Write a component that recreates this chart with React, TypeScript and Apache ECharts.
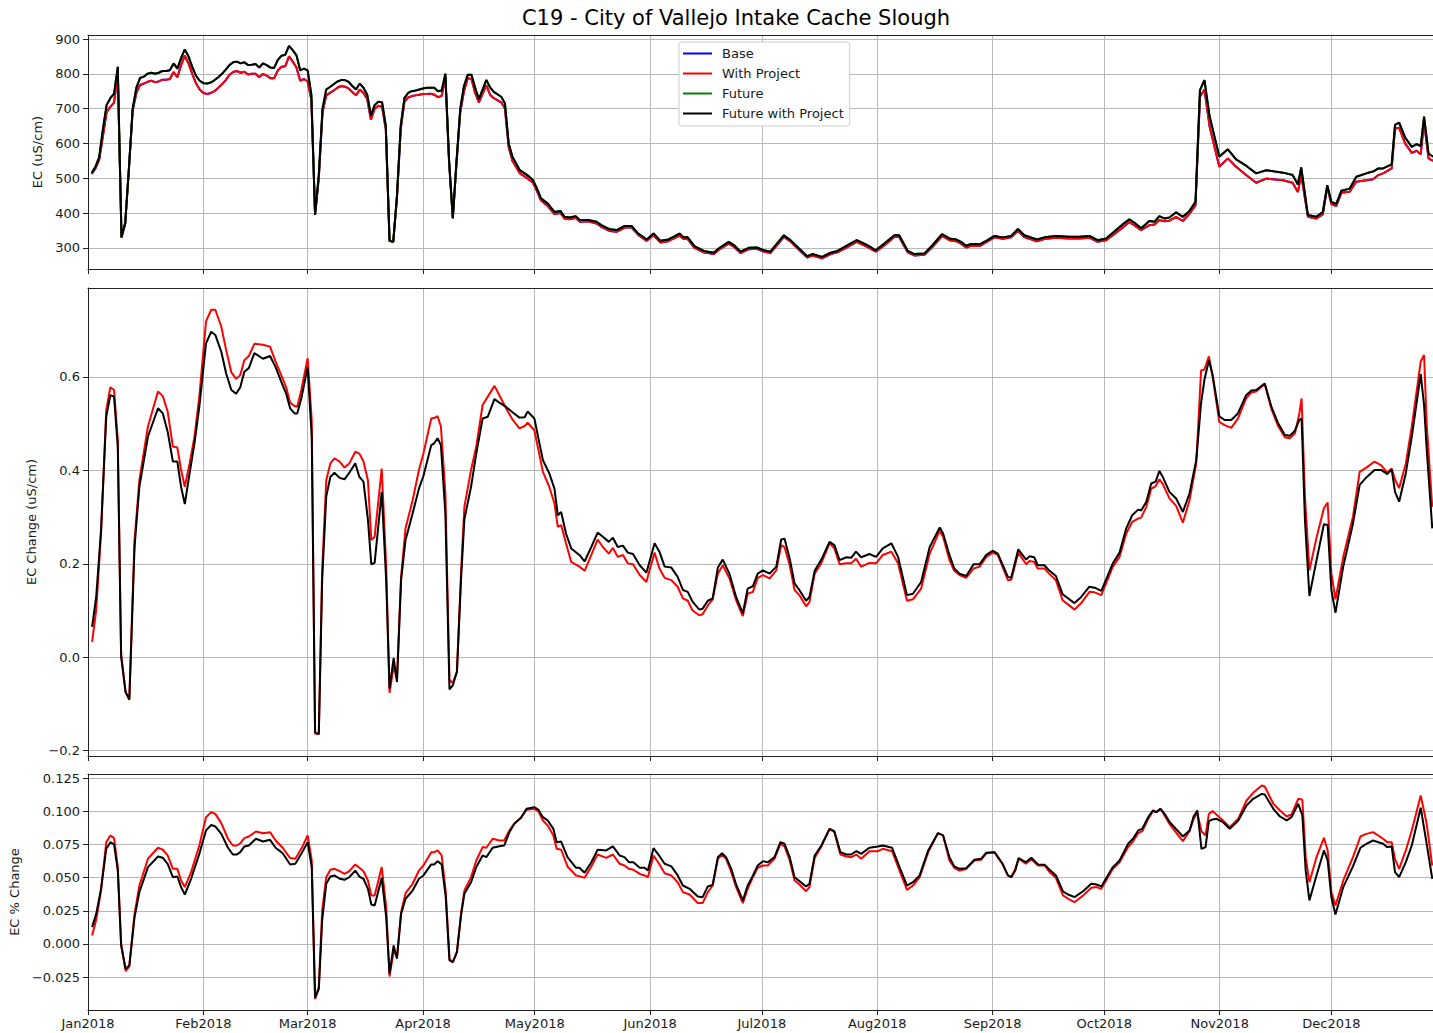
import React, { useEffect, useRef } from 'react';
import * as echarts from 'echarts';

const FONT = "'DejaVu Sans', 'Liberation Sans', sans-serif";
const TITLE = 'C19 - City of Vallejo Intake Cache Slough';

// x axis: day of year 2018 (0 = Jan 1); the reference picture is cut off near Dec 28
const X_MAX = 361.3;
const MONTH_STARTS = [0, 31, 59, 90, 120, 151, 181, 212, 243, 273, 304, 334];
const MONTH_LABELS = ['Jan2018', 'Feb2018', 'Mar2018', 'Apr2018', 'May2018', 'Jun2018', 'Jul2018', 'Aug2018', 'Sep2018', 'Oct2018', 'Nov2018', 'Dec2018'];

const TOP_TICKS = [300, 400, 500, 600, 700, 800, 900];
const MID_TICKS = [-0.2, 0, 0.2, 0.4, 0.6];
const BOT_TICKS = [-0.025, 0, 0.025, 0.05, 0.075, 0.1, 0.125];

const SERIES_NAMES = ['Base', 'With Project', 'Future', 'Future with Project'];
const SERIES_COLORS = ['#0000ff', '#ff0000', '#008000', '#000000'];

// ---------- Top panel: EC (uS/cm) ----------
const topDays = [
  1, 2, 3, 4, 5, 6, 7, 8, 9, 10, 11, 12, 13, 14, 15, 16, 17, 18, 19, 20,
  21, 22, 23, 24, 25, 26, 27, 28, 29, 30, 31, 32, 33, 34, 35, 36, 37, 38, 39, 40,
  41, 42, 43, 44, 45, 46, 47, 48, 49, 50, 51, 52, 53, 54, 55, 56, 57, 58, 59, 60,
  61, 62, 63, 64, 65, 66, 67, 68, 69, 70, 71, 72, 73, 74, 75, 76, 77, 78, 79, 80,
  81, 82, 83, 84, 85, 86, 87, 88, 89, 90, 91, 92, 93, 94, 95, 96, 97, 98, 99, 100,
  101, 102, 103, 104, 105,
  107, 108, 109, 111, 112, 113, 114, 116, 118, 119.5, 120.4, 121.7, 123.5, 125.3, 126.9,
  128, 129.4, 131, 132.1, 134.3, 136.6, 137.9, 140.2, 142, 144.2, 146, 147.8, 150.1, 151.9, 153.8,
  155.9, 157.4, 158.9, 160, 161.1, 162.9, 165.4, 168.1, 169.4, 172.1, 173.5, 175.3, 177.5, 179.7, 181.5,
  183.3, 186.9, 188.7, 191, 193.2, 194.6, 197.2, 199.5, 201.3, 203.6, 206.5, 208.5, 209.8, 211.6, 213.9,
  216.6, 217.9, 220.2, 222, 224.7, 226.9, 229.4,
  231.4, 233.2, 234.5, 235.9, 237.2, 239.5, 241.3, 243.5, 245.7, 248, 249.8, 251.5, 254.9, 256.9, 260,
  263.6, 266.3, 269, 271.2, 273.5, 275.3, 277.9, 279.7, 281.1, 282.9, 285.1, 286.5, 287.8, 289.2, 290.5,
  292.3, 294.1, 295.9, 297.5, 298.7, 299.9, 301.3, 303.9, 306.2, 308.4, 311.1, 313.8, 316.5, 321, 323.6,
  325, 325.9, 327.7, 329.9, 331.7, 332.9, 334, 335.3, 336.7, 338.9, 340.7, 343.4, 345.2, 346.6, 347.9,
  350.2, 351.1, 352.2, 353.8, 355.6, 356.9, 358, 358.9, 360.1, 361.3,
];
const topFutureWithProject = [
  515, 533, 560, 640, 710, 730, 743, 820, 330, 370, 530, 700, 760, 788, 792, 800, 803, 800, 803, 808,
  808, 810, 830, 815, 845, 870, 850, 820, 795, 780, 773, 772, 775, 782, 790, 800, 812, 825, 833, 835,
  830, 833, 825, 826, 828, 818, 830, 825, 818, 817, 840, 852, 855, 880, 868, 853, 810, 815, 810, 740,
  395, 510, 700, 755, 762, 770, 778, 782, 782, 777, 765, 755, 772, 760, 740, 680, 710, 720, 718, 650,
  320, 317, 450, 650, 730, 745, 750, 752, 755, 758, 760, 760, 760, 750, 752, 800, 550, 385, 550, 700,
  765, 797, 797, 760, 727,
  782, 761, 748, 734, 715, 600, 562, 523, 509, 495, 475, 442, 427, 403, 406,
  389, 387, 391, 380, 380, 375, 365, 353, 351, 363, 363, 341, 324, 341, 320,
  324, 332, 341, 330, 330, 305, 291, 286, 298, 317, 308, 289, 300, 301, 293,
  289, 336, 322, 298, 276, 282, 274, 286, 291, 305, 322, 312, 305, 293, 312,
  336, 336, 291, 282, 284, 308, 339,
  327, 324, 317, 306, 311, 310, 320, 334, 330, 334, 354, 336, 324, 330, 334,
  332, 332, 334, 322, 327, 343, 367, 382, 372, 356, 377, 375, 391, 384, 387,
  402, 389, 406, 432, 753, 782, 677, 562, 583, 554, 536, 514, 523, 516, 509,
  482, 531, 394, 389, 403, 480, 432, 426, 464, 470, 504, 514, 519, 528, 528,
  540, 653, 660, 617, 590, 598, 592, 677, 571, 562,
];
const topWithProject = [
  512, 528, 553, 620, 690, 705, 717, 800, 330, 372, 528, 695, 745, 768, 772, 777, 780, 776, 778, 783,
  783, 785, 805, 790, 825, 852, 830, 800, 773, 755, 745, 742, 745, 750, 760, 770, 782, 797, 805, 808,
  803, 806, 798, 800, 800, 790, 800, 795, 787, 787, 810, 820, 822, 850, 835, 818, 780, 785, 778, 725,
  395, 500, 690, 738, 745, 752, 760, 765, 763, 758, 748, 738, 755, 745, 728, 668, 700, 708, 705, 640,
  320, 317, 445, 640, 720, 732, 736, 738, 740, 742, 742, 743, 740, 733, 736, 790, 545, 385, 545, 690,
  750, 787, 785, 745, 718,
  767, 740, 730, 718, 700, 590, 550, 514, 500, 487, 468, 436, 420, 397, 400,
  384, 382, 386, 375, 376, 370, 360, 348, 346, 358, 358, 337, 320, 336, 315,
  319, 327, 335, 325, 325, 300, 287, 282, 294, 312, 303, 285, 296, 297, 289,
  285, 331, 318, 294, 272, 278, 270, 282, 287, 300, 317, 307, 300, 289, 307,
  331, 331, 287, 278, 280, 303, 334,
  322, 319, 312, 301, 306, 305, 316, 330, 326, 330, 349, 331, 319, 325, 329,
  327, 327, 329, 317, 322, 336, 358, 374, 364, 351, 365, 367, 380, 376, 378,
  389, 377, 398, 422, 734, 755, 648, 533, 557, 533, 509, 487, 499, 494, 487,
  460, 510, 389, 384, 396, 475, 426, 420, 458, 461, 490, 494, 497, 509, 514,
  528, 643, 645, 600, 573, 579, 569, 662, 557, 550,
];

// ---------- Middle panel: EC Change (uS/cm) ----------
const midDays = [
  1.1, 2.2, 3.5, 4.9, 6, 7, 8, 8.9, 10.1, 11.1, 12.5, 13.8, 16.1, 18.8, 20.1, 21.4, 22.8, 24, 25, 26,
  27.3, 28.6, 29.9, 31.7, 33.1, 34.2, 35.8, 37.1, 38.5, 39.8, 40.9, 42, 43.2, 44.7, 47, 48.9, 50.4, 51.9, 53.2, 54.3,
  55.5, 56.2, 57.3, 59, 60.1, 61, 62, 62.9, 64, 65.1, 66.2, 67.6, 68.9, 70.2, 71.8, 72.9, 74, 75.2, 76.1, 77,
  78.9, 80.1, 81, 82.1, 83, 84.1, 85.3, 87.2, 88.9, 90.1, 92.2, 93, 93.9, 94.8, 96, 97.1, 98, 99.1, 100.2, 101.1,
  102.9, 104.3, 106, 107.4, 109.2, 110.5, 112.3, 114.1, 115.9, 117.3, 118.1, 119.9, 122.2, 123.9, 125.3, 126.2, 127.1, 128.4, 129.8, 132,
  133.4, 135.2, 136.9, 138.3, 139.9, 141, 142.3, 143.7, 145, 146.4, 148.2, 150, 150.8, 152.2, 153.5, 154.9, 156.7, 158.4, 159.8, 161.1,
  162.4, 164.2, 165.1, 166.5, 167.8, 169.2, 170.5, 172.3, 174.1, 175.9, 177.2, 178.6, 179.9, 181.3, 183.1, 184.9, 186.2, 187.1, 188.5, 189.8,
  191.1, 192.9, 193.8, 195.2, 197, 199.2, 200.5, 201.9, 203.7, 205, 206.3, 207.7, 209.9, 211.7, 213.5, 215.8, 217.6, 220, 221.6, 223.8,
  226.1, 228.8, 229.7, 231.4, 232.7, 234.1, 235.9, 237.9, 239.5, 241.3, 243, 244.4, 247.1, 248, 249.9, 252, 252.9, 254.2, 255.1, 256.9,
  258.3, 260, 261.8, 263.6, 265, 266.8, 269, 270.4, 272.2, 275.3, 277.1, 278.9, 280.5, 282.1, 282.9, 284.3, 285.6, 286.8, 287.8, 288.7,
  290.5, 292.3, 294.1, 295.9, 297.7, 299, 299.9, 301.1, 302.1, 303.9, 305.3, 307.1, 308.9, 311.1, 312.5, 313.8, 316.1, 317.9, 319.7, 321.5,
  322.8, 324.2, 325.4, 326, 326.9, 328.1, 330.1, 332, 333, 334, 335.1, 337.2, 339.8, 341.6, 343.4, 345.6, 347.4, 349, 350.2, 351.1,
  352.2, 354, 355.6, 358, 358.9, 359.6, 361.1,
];
const midFutureWithProject = [
  0.065, 0.129, 0.272, 0.515, 0.561, 0.558, 0.451, 0.001, -0.074, -0.091, 0.236, 0.365, 0.472, 0.533, 0.522, 0.483, 0.419, 0.419, 0.365, 0.328,
  0.394, 0.458, 0.536, 0.672, 0.697, 0.690, 0.654, 0.608, 0.572, 0.564, 0.578, 0.611, 0.619, 0.651, 0.639, 0.645, 0.621, 0.590, 0.565, 0.533,
  0.522, 0.522, 0.554, 0.621, 0.472, -0.160, -0.165, 0.165, 0.344, 0.386, 0.395, 0.384, 0.381, 0.395, 0.415, 0.386, 0.376, 0.294, 0.199, 0.202,
  0.354, 0.165, -0.067, -0.002, -0.053, 0.165, 0.251, 0.308, 0.361, 0.388, 0.454, 0.458, 0.469, 0.454, 0.308, -0.069, -0.060, -0.031, 0.165, 0.295,
  0.365, 0.436, 0.511, 0.515, 0.553, 0.545, 0.536, 0.524, 0.513, 0.514, 0.526, 0.511, 0.422, 0.394, 0.361, 0.304, 0.311, 0.265, 0.233, 0.219,
  0.205, 0.236, 0.267, 0.258, 0.247, 0.256, 0.236, 0.239, 0.224, 0.221, 0.197, 0.181, 0.204, 0.244, 0.226, 0.194, 0.192, 0.172, 0.144, 0.140,
  0.119, 0.102, 0.104, 0.121, 0.126, 0.192, 0.209, 0.179, 0.129, 0.094, 0.147, 0.152, 0.179, 0.186, 0.179, 0.194, 0.252, 0.254, 0.211, 0.158,
  0.144, 0.121, 0.129, 0.185, 0.209, 0.247, 0.240, 0.208, 0.214, 0.213, 0.226, 0.214, 0.221, 0.215, 0.233, 0.244, 0.215, 0.133, 0.136, 0.161,
  0.236, 0.278, 0.265, 0.219, 0.190, 0.179, 0.174, 0.199, 0.199, 0.219, 0.228, 0.222, 0.172, 0.170, 0.231, 0.209, 0.216, 0.214, 0.197, 0.197,
  0.185, 0.174, 0.135, 0.124, 0.116, 0.129, 0.151, 0.149, 0.142, 0.201, 0.224, 0.276, 0.304, 0.316, 0.314, 0.333, 0.372, 0.376, 0.399, 0.386,
  0.354, 0.340, 0.311, 0.351, 0.422, 0.544, 0.594, 0.636, 0.604, 0.516, 0.508, 0.508, 0.522, 0.561, 0.571, 0.572, 0.586, 0.536, 0.501, 0.476,
  0.474, 0.485, 0.508, 0.511, 0.294, 0.131, 0.211, 0.285, 0.283, 0.144, 0.095, 0.195, 0.286, 0.369, 0.385, 0.401, 0.401, 0.392, 0.402, 0.354,
  0.333, 0.394, 0.472, 0.606, 0.540, 0.447, 0.276,
];
const midWithProject = [
  0.033, 0.101, 0.265, 0.529, 0.578, 0.572, 0.465, 0.008, -0.076, -0.089, 0.251, 0.379, 0.494, 0.569, 0.559, 0.526, 0.451, 0.449, 0.401, 0.365,
  0.415, 0.472, 0.558, 0.719, 0.744, 0.744, 0.708, 0.658, 0.610, 0.596, 0.604, 0.636, 0.645, 0.671, 0.669, 0.665, 0.633, 0.604, 0.579, 0.545,
  0.538, 0.536, 0.572, 0.640, 0.508, -0.164, -0.164, 0.186, 0.379, 0.415, 0.426, 0.419, 0.406, 0.415, 0.440, 0.436, 0.419, 0.379, 0.251, 0.258,
  0.404, 0.194, -0.076, -0.020, -0.046, 0.172, 0.276, 0.336, 0.401, 0.436, 0.511, 0.512, 0.516, 0.494, 0.351, -0.049, -0.055, -0.031, 0.180, 0.322,
  0.401, 0.451, 0.540, 0.558, 0.581, 0.561, 0.533, 0.508, 0.490, 0.495, 0.502, 0.486, 0.397, 0.365, 0.329, 0.279, 0.283, 0.244, 0.204, 0.194,
  0.185, 0.219, 0.252, 0.236, 0.222, 0.234, 0.215, 0.219, 0.201, 0.199, 0.176, 0.161, 0.185, 0.224, 0.190, 0.170, 0.165, 0.151, 0.126, 0.121,
  0.100, 0.090, 0.092, 0.111, 0.124, 0.179, 0.197, 0.169, 0.122, 0.088, 0.136, 0.140, 0.170, 0.176, 0.169, 0.186, 0.240, 0.236, 0.197, 0.144,
  0.133, 0.109, 0.118, 0.179, 0.202, 0.244, 0.233, 0.199, 0.201, 0.201, 0.211, 0.194, 0.202, 0.201, 0.219, 0.226, 0.201, 0.121, 0.124, 0.147,
  0.222, 0.271, 0.258, 0.208, 0.185, 0.176, 0.170, 0.190, 0.194, 0.215, 0.224, 0.219, 0.165, 0.166, 0.224, 0.199, 0.206, 0.204, 0.190, 0.190,
  0.178, 0.165, 0.122, 0.111, 0.102, 0.116, 0.140, 0.139, 0.133, 0.194, 0.215, 0.265, 0.290, 0.297, 0.299, 0.322, 0.361, 0.366, 0.381, 0.371,
  0.340, 0.324, 0.288, 0.336, 0.415, 0.614, 0.616, 0.644, 0.601, 0.504, 0.497, 0.491, 0.511, 0.554, 0.567, 0.569, 0.585, 0.531, 0.495, 0.471,
  0.469, 0.479, 0.522, 0.554, 0.344, 0.186, 0.259, 0.319, 0.331, 0.179, 0.124, 0.215, 0.301, 0.397, 0.406, 0.419, 0.411, 0.395, 0.404, 0.380,
  0.362, 0.415, 0.494, 0.633, 0.647, 0.500, 0.322,
];

// ---------- Bottom panel: EC % Change ----------
const botDays = [
  1.1, 2.2, 3.5, 4.9, 6, 7, 8, 8.9, 10.1, 11.1, 12.5, 13.8, 16.1, 18.8, 20.1, 21.4, 22.8, 24, 25, 26,
  27.7, 29.9, 31.7, 33.1, 34.2, 35.8, 37.6, 38.9, 40, 40.9, 42, 43.2, 45.1, 47, 48.9, 50.4, 52.3, 54.3, 55.7, 57.3,
  59, 60.1, 61, 62, 62.9, 64, 65.1, 66.2, 67.6, 68.9, 70.2, 71.8, 72.9, 74, 75.2, 76.1, 77, 78.9, 80.1, 81,
  82.1, 83, 84.1, 85.3, 87.2, 88.9, 90.1, 92.2, 93, 93.9, 95, 96.1, 97.1, 98, 99.1, 100.2, 101.1, 102.9, 104.3, 106,
  107, 108.7, 110.5, 111.8, 113.2, 114.5, 116.3, 117.8, 119.9, 121, 122.2, 123.5, 125, 125.9, 127.1, 128.8, 131.1, 132, 133.4, 135.2,
  136.9, 139.2, 141, 142.8, 144.1, 145.3, 146.5, 148.2, 149.5, 150.4, 151.9, 153.4, 154.9, 156.7, 158.4, 159.8, 161.6, 163.8, 165.1, 166.5,
  167.8, 169.2, 170.3, 171.4, 172.8, 174.1, 175.9, 177.2, 178.4, 179.9, 181.3, 182.6, 184.4, 186, 187.1, 188.5, 189.8, 191.1, 192.9, 193.8,
  195.2, 197, 199.2, 200.5, 202.1, 203.7, 205, 206.4, 207.7, 209.9, 212.2, 213.5, 216, 218, 220, 221.6, 223.4, 225.7, 228.3, 229.7,
  231.4, 232.7, 234.1, 235.9, 238.1, 239.9, 241.3, 243.5, 245.7, 247.1, 248, 249.1, 250, 251.9, 253.4, 255.2, 257, 258.3, 260, 261.9,
  263.3, 265, 267.3, 269.5, 270.9, 272.2, 275.3, 277.1, 279.4, 280.7, 282.1, 283.2, 284.8, 286.1, 287, 288.1, 289.2, 290.6, 292.4, 294.1,
  295.9, 297, 298, 299.1, 300.2, 301.1, 302.1, 303.1, 304.9, 306.7, 309, 311.2, 313, 315.3, 316.1, 318.4, 320.2, 322, 323.3, 325.1,
  326.2, 327.1, 328.1, 330, 332, 333, 334, 335.1, 337.2, 339.8, 341.8, 343.4, 345.2, 347.9, 349, 350.2, 351.1, 352.2, 354, 355.6,
  358, 359.6, 361.1,
];
const botFutureWithProject = [
  0.0127, 0.0227, 0.0416, 0.0718, 0.0768, 0.0751, 0.0554, -0.0012, -0.0188, -0.0163, 0.0202, 0.0391, 0.0580, 0.0660, 0.0650, 0.0605, 0.0504, 0.0509, 0.0429, 0.0373,
  0.0492, 0.0680, 0.0857, 0.0899, 0.0887, 0.0831, 0.0726, 0.0675, 0.0675, 0.0693, 0.0736, 0.0743, 0.0794, 0.0773, 0.0786, 0.0726, 0.0685, 0.0600, 0.0605, 0.0680,
  0.0768, 0.0580, -0.0407, -0.0339, 0.0177, 0.0454, 0.0509, 0.0517, 0.0492, 0.0484, 0.0504, 0.0554, 0.0509, 0.0492, 0.0416, 0.0298, 0.0290, 0.0499, 0.0202, -0.0226,
  -0.0012, -0.0112, 0.0227, 0.0341, 0.0403, 0.0492, 0.0517, 0.0600, 0.0600, 0.0625, 0.0600, 0.0353, -0.0125, -0.0138, -0.0062, 0.0215, 0.0378, 0.0466, 0.0580, 0.0668,
  0.0655, 0.0726, 0.0738, 0.0743, 0.0844, 0.0907, 0.0952, 0.1020, 0.1033, 0.1013, 0.0957, 0.0932, 0.0869, 0.0768, 0.0773, 0.0655, 0.0575, 0.0575, 0.0537, 0.0617,
  0.0711, 0.0706, 0.0736, 0.0668, 0.0655, 0.0617, 0.0617, 0.0575, 0.0575, 0.0554, 0.0723, 0.0668, 0.0605, 0.0585, 0.0517, 0.0441, 0.0416, 0.0358, 0.0353, 0.0434,
  0.0446, 0.0655, 0.0685, 0.0655, 0.0567, 0.0449, 0.0328, 0.0441, 0.0504, 0.0592, 0.0625, 0.0617, 0.0655, 0.0768, 0.0756, 0.0655, 0.0504, 0.0474, 0.0434, 0.0454,
  0.0668, 0.0743, 0.0869, 0.0851, 0.0693, 0.0675, 0.0675, 0.0700, 0.0680, 0.0726, 0.0736, 0.0743, 0.0726, 0.0580, 0.0441, 0.0466, 0.0517, 0.0706, 0.0836, 0.0819,
  0.0655, 0.0585, 0.0567, 0.0572, 0.0635, 0.0643, 0.0688, 0.0693, 0.0605, 0.0517, 0.0504, 0.0554, 0.0648, 0.0617, 0.0650, 0.0600, 0.0597, 0.0560, 0.0517, 0.0396,
  0.0373, 0.0353, 0.0398, 0.0454, 0.0449, 0.0434, 0.0580, 0.0630, 0.0756, 0.0794, 0.0857, 0.0869, 0.0957, 0.1008, 0.0995, 0.1020, 0.0982, 0.0919, 0.0864, 0.0811,
  0.0857, 0.0962, 0.1008, 0.0718, 0.0731, 0.0927, 0.0940, 0.0945, 0.0919, 0.0869, 0.0932, 0.1045, 0.1096, 0.1133, 0.1128, 0.1020, 0.0962, 0.0932, 0.0957, 0.1058,
  0.0970, 0.0554, 0.0328, 0.0517, 0.0706, 0.0630, 0.0353, 0.0222, 0.0429, 0.0585, 0.0726, 0.0756, 0.0781, 0.0756, 0.0731, 0.0736, 0.0542, 0.0504, 0.0617, 0.0743,
  0.1028, 0.0756, 0.0492,
];
const botWithProject = [
  0.0064, 0.0182, 0.0403, 0.0768, 0.0819, 0.0799, 0.0580, 0.0001, -0.0206, -0.0170, 0.0227, 0.0441, 0.0643, 0.0726, 0.0711, 0.0668, 0.0567, 0.0567, 0.0479, 0.0429,
  0.0542, 0.0743, 0.0957, 0.0995, 0.0982, 0.0912, 0.0794, 0.0743, 0.0743, 0.0760, 0.0799, 0.0811, 0.0849, 0.0836, 0.0844, 0.0781, 0.0726, 0.0648, 0.0643, 0.0718,
  0.0819, 0.0630, -0.0415, -0.0326, 0.0252, 0.0504, 0.0560, 0.0567, 0.0549, 0.0529, 0.0549, 0.0600, 0.0575, 0.0549, 0.0479, 0.0366, 0.0366, 0.0580, 0.0278, -0.0246,
  -0.0050, -0.0100, 0.0240, 0.0383, 0.0454, 0.0554, 0.0592, 0.0693, 0.0693, 0.0706, 0.0668, 0.0391, -0.0113, -0.0138, -0.0062, 0.0227, 0.0403, 0.0504, 0.0630, 0.0731,
  0.0726, 0.0794, 0.0781, 0.0781, 0.0857, 0.0907, 0.0952, 0.1013, 0.1020, 0.1000, 0.0932, 0.0894, 0.0819, 0.0718, 0.0711, 0.0585, 0.0517, 0.0512, 0.0499, 0.0585,
  0.0675, 0.0650, 0.0675, 0.0605, 0.0592, 0.0567, 0.0560, 0.0529, 0.0517, 0.0504, 0.0668, 0.0605, 0.0534, 0.0517, 0.0466, 0.0391, 0.0373, 0.0308, 0.0308, 0.0391,
  0.0441, 0.0643, 0.0673, 0.0643, 0.0542, 0.0429, 0.0308, 0.0416, 0.0492, 0.0575, 0.0592, 0.0592, 0.0643, 0.0756, 0.0736, 0.0630, 0.0479, 0.0449, 0.0398, 0.0429,
  0.0650, 0.0736, 0.0869, 0.0844, 0.0675, 0.0660, 0.0655, 0.0675, 0.0643, 0.0700, 0.0700, 0.0718, 0.0700, 0.0554, 0.0408, 0.0441, 0.0504, 0.0693, 0.0836, 0.0819,
  0.0630, 0.0575, 0.0554, 0.0565, 0.0630, 0.0635, 0.0685, 0.0693, 0.0600, 0.0517, 0.0504, 0.0570, 0.0643, 0.0605, 0.0640, 0.0592, 0.0592, 0.0542, 0.0499, 0.0366,
  0.0341, 0.0315, 0.0366, 0.0424, 0.0429, 0.0416, 0.0567, 0.0617, 0.0731, 0.0773, 0.0836, 0.0851, 0.0945, 0.1003, 0.0995, 0.1020, 0.0970, 0.0902, 0.0836, 0.0776,
  0.0851, 0.0945, 0.0987, 0.0851, 0.0819, 0.0982, 0.1003, 0.0977, 0.0932, 0.0882, 0.0945, 0.1083, 0.1141, 0.1196, 0.1189, 0.1058, 0.1008, 0.0962, 0.0977, 0.1096,
  0.1088, 0.0655, 0.0466, 0.0655, 0.0801, 0.0706, 0.0391, 0.0290, 0.0479, 0.0655, 0.0811, 0.0831, 0.0844, 0.0794, 0.0768, 0.0768, 0.0640, 0.0567, 0.0706, 0.0857,
  0.1121, 0.0907, 0.0592,
];

const zip = (xs: number[], ys: number[]) => xs.map((x, i) => [x, ys[i]]);
const signed = (v: number, n: number) => (v < -1e-9 ? '\u2212' : '') + Math.abs(v).toFixed(n);

const TEXT_COLOR = '#1a1a1a';
const GRID_COLOR = '#b8b8b8';
const SPINE = '#222222';

function makeXAxis(gridIndex: number, showLabels: boolean) {
  return {
    type: 'value',
    gridIndex,
    min: 0,
    max: X_MAX,
    axisLine: { show: true, onZero: false, lineStyle: { color: SPINE, width: 1 } },
    axisTick: { show: true, inside: false, length: 5, customValues: MONTH_STARTS, lineStyle: { color: SPINE, width: 1 } },
    axisLabel: {
      show: showLabels,
      customValues: MONTH_STARTS,
      formatter: (v: number) => MONTH_LABELS[MONTH_STARTS.indexOf(Math.round(v))] || '',
      margin: 7,
      fontSize: 13,
      fontFamily: FONT,
      color: TEXT_COLOR,
    },
    splitLine: { show: true, lineStyle: { color: GRID_COLOR, width: 1 } },
  };
}

// top spine of each panel (the right spine lies outside the picture)
function makeTopSpine(gridIndex: number) {
  return {
    type: 'value',
    gridIndex,
    position: 'top',
    min: 0,
    max: X_MAX,
    axisLine: { show: true, onZero: false, lineStyle: { color: SPINE, width: 1 } },
    axisTick: { show: false },
    axisLabel: { show: false },
    splitLine: { show: false },
  };
}

function makeYAxis(gridIndex: number, min: number, max: number, ticks: number[], name: string, nameGap: number, fmt: (v: number) => string) {
  return {
    type: 'value',
    gridIndex,
    min,
    max,
    name,
    nameLocation: 'middle',
    nameGap,
    nameTextStyle: { fontSize: 13, fontFamily: FONT, color: TEXT_COLOR },
    axisLine: { show: true, onZero: false, lineStyle: { color: SPINE, width: 1 } },
    axisTick: { show: true, inside: false, length: 5, customValues: ticks, lineStyle: { color: SPINE, width: 1 } },
    axisLabel: { customValues: ticks, formatter: fmt, margin: 8, fontSize: 13, fontFamily: FONT, color: TEXT_COLOR },
    splitLine: { show: true, lineStyle: { color: GRID_COLOR, width: 1 } },
  };
}

function lineSeries(name: string, color: string, axis: number, data: number[][]) {
  return {
    type: 'line',
    name,
    xAxisIndex: axis,
    yAxisIndex: axis,
    data,
    color,
    showSymbol: false,
    symbol: 'none',
    lineStyle: { color, width: 2 },
    itemStyle: { color },
    emphasis: { disabled: true },
    clip: true,
  };
}

export default function App() {
  const ref = useRef<HTMLDivElement>(null);

  useEffect(() => {
    if (!ref.current) return;
    const chart = echarts.init(ref.current, undefined, { renderer: 'svg' });
    const topWP = zip(topDays, topWithProject);
    const topFWP = zip(topDays, topFutureWithProject);
    const gridBase = { left: 88, right: 0, show: false };
    chart.setOption({
      animation: false,
      textStyle: { fontFamily: FONT },
      graphic: [
        {
          type: 'text',
          x: 736,
          y: 18,
          style: { text: TITLE, font: `21px ${FONT}`, fill: '#000', align: 'center', verticalAlign: 'middle' },
        },
      ],
      legend: {
        data: SERIES_NAMES,
        orient: 'vertical',
        left: 679,
        top: 42,
        icon: 'rect',
        itemWidth: 29,
        itemHeight: 2,
        itemGap: 5,
        padding: [4, 6, 5, 4],
        backgroundColor: '#ffffff',
        borderColor: '#cccccc',
        borderWidth: 1,
        borderRadius: 3,
        textStyle: { fontSize: 13, fontFamily: FONT, color: TEXT_COLOR, lineHeight: 15, padding: [0, 0, 0, 5] },
        selectedMode: false,
      },
      grid: [
        { ...gridBase, top: 35, height: 234 },
        { ...gridBase, top: 288, height: 468 },
        { ...gridBase, top: 774, height: 236 },
      ],
      xAxis: [makeXAxis(0, false), makeXAxis(1, false), makeXAxis(2, true), makeTopSpine(0), makeTopSpine(1), makeTopSpine(2)],
      yAxis: [
        makeYAxis(0, 239.1, 911.5, TOP_TICKS, 'EC (uS/cm)', 41, (v) => String(Math.round(v))),
        makeYAxis(1, -0.2114, 0.7905, MID_TICKS, 'EC Change (uS/cm)', 48, (v) => signed(v, 1)),
        makeYAxis(2, -0.0499, 0.1283, BOT_TICKS, 'EC % Change', 64, (v) => signed(v, 3)),
      ],
      series: [
        lineSeries('Base', SERIES_COLORS[0], 0, topWP),
        lineSeries('With Project', SERIES_COLORS[1], 0, topWP),
        lineSeries('Future', SERIES_COLORS[2], 0, topFWP),
        lineSeries('Future with Project', SERIES_COLORS[3], 0, topFWP),
        lineSeries('With Project', SERIES_COLORS[1], 1, zip(midDays, midWithProject)),
        lineSeries('Future with Project', SERIES_COLORS[3], 1, zip(midDays, midFutureWithProject)),
        lineSeries('With Project', SERIES_COLORS[1], 2, zip(botDays, botWithProject)),
        lineSeries('Future with Project', SERIES_COLORS[3], 2, zip(botDays, botFutureWithProject)),
      ],
    });
    return () => chart.dispose();
  }, []);

  return (
    <div
      ref={ref}
      style={{ position: 'fixed', left: 0, top: 0, width: 1433, height: 1033, background: '#ffffff' }}
    />
  );
}
